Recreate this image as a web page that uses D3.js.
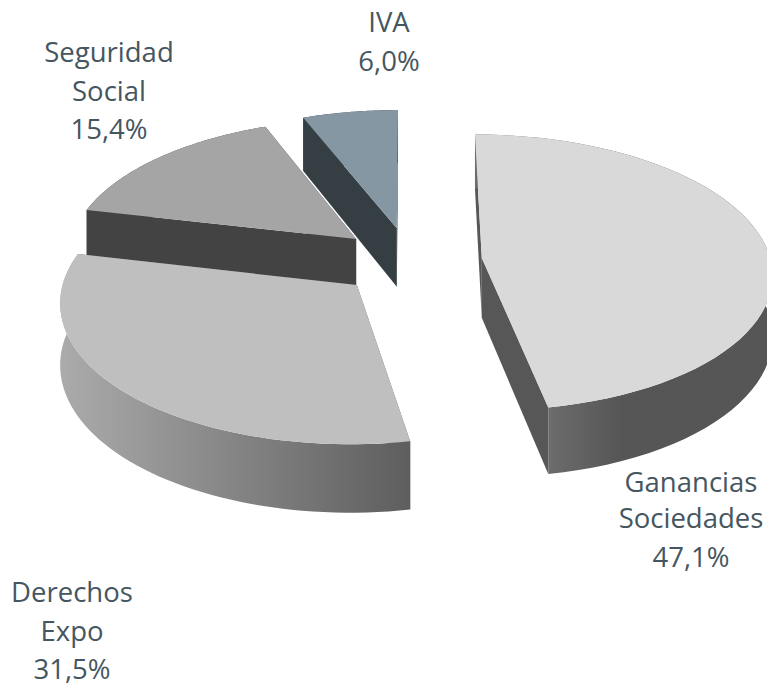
<!DOCTYPE html>
<html lang="es">

<head>
    <meta charset="UTF-8">
    <title>Recaudación</title>
    <style>
        html, body { margin: 0; background: #fff; }
        svg { display: block; }
        text { font-family: "Open Sans", Lato, sans-serif; font-size: 27.5px; fill: #465660; text-anchor: middle; }
    </style>
</head>

<body>
    <svg width="767" height="684"></svg>
    <script src="https://cdn.jsdelivr.net/npm/d3@7.8.5/dist/d3.min.js"></script>
    <script>
        const categories = [['Ganancias', 'Sociedades'], ['Derechos', 'Expo'], ['Seguridad', 'Social'], ['IVA']]
        const values = [47.1, 31.5, 15.4, 6.0]

        // styles, same order as the categories
        const topColors = ['#d9d9d9', '#bfbfbf', '#a5a5a5', '#8497a3']
        const cutColors = ['#575757', '#5f5f5f', '#434343', '#353f43']
        const wallStops = [
            [[0, '#6c6c6c'], [0.32, '#565656'], [1, '#565656']],
            [[0, '#ababab'], [1, '#5e5e5e']],
            [[0, '#434343'], [1, '#434343']],
            [[0, '#353f43'], [1, '#353f43']]
        ]
        const labelCenters = [[691, 492], [72, 602], [109, 62], [389, 32]]
        const labelLeading = [[0, 36, 75], [0, 39, 77], [0, 39, 77], [0, 39]]

        const cx = 410, cy = 261
        const explode = 0.25
        const perspective = 0.105
        const depth = 60

        const svg = d3.select('svg')
        const defs = svg.append('defs')

        const xScale = d3.scaleLinear().domain([0, 1]).range([0, 289])
        const yScale = d3.scaleLinear().domain([0, 1]).range([0, -137])

        // plane coordinates (u right, v back) to screen
        function project(u, v, down) {
            const f = 1 / (1 + perspective * v)
            return [cx + xScale(u) * f, cy + yScale(v) * f + (down ? depth * f : 0)]
        }

        const slices = d3.pie().sort(null).value(d => d)(values)
        const line = d3.line()

        // slices are painted back to front
        const order = [3, 2, 0, 1]

        order.forEach(i => {
            const s = slices[i]
            const mid = (s.startAngle + s.endAngle) / 2
            const ou = explode * Math.sin(mid)
            const ov = explode * Math.cos(mid)
            const apex = [ou, ov]
            const angles = d3.range(0, 61).map(k => s.startAngle + (s.endAngle - s.startAngle) * k / 60)
            const rim = angles.map(a => [ou + Math.sin(a), ov + Math.cos(a)])

            const g = svg.append('g').attr('class', 'slice')
            const onTop = p => project(p[0], p[1], false)
            const onBottom = p => project(p[0], p[1], true)

            // cut faces, the one further back first
            const cuts = [rim[0], rim[rim.length - 1]].sort((a, b) => b[1] - a[1])
            cuts.forEach(p => {
                g.append('path')
                    .attr('d', line([onTop(apex), onTop(p), onBottom(p), onBottom(apex)]) + 'Z')
                    .attr('fill', cutColors[i])
            })

            // outer wall
            const topRim = rim.map(onTop)
            const bottomRim = rim.map(onBottom)
            const xs = d3.extent(topRim.concat(bottomRim).filter(p => p[1] > cy - 10), p => p[0])
            const grad = defs.append('linearGradient')
                .attr('id', 'wall' + i)
                .attr('gradientUnits', 'userSpaceOnUse')
                .attr('x1', i === 0 ? project(rim[60][0], rim[60][1], true)[0] : xs[0])
                .attr('x2', xs[1])
                .attr('y1', 0).attr('y2', 0)
            grad.selectAll('stop').data(wallStops[i]).join('stop')
                .attr('offset', d => d[0])
                .attr('stop-color', d => d[1])
            g.append('path')
                .attr('d', line(topRim.concat(bottomRim.slice().reverse())) + 'Z')
                .attr('fill', `url(#wall${i})`)

            // top face
            g.append('path')
                .attr('d', line([onTop(apex)].concat(topRim)) + 'Z')
                .attr('fill', topColors[i])
        })

        const pct = d3.format('.1f')
        categories.forEach((c, i) => {
            const lines = c.concat(pct(values[i]).replace('.', ',') + '%')
            const t = svg.append('text')
            lines.forEach((l, k) => {
                t.append('tspan')
                    .attr('x', labelCenters[i][0])
                    .attr('y', labelCenters[i][1] + labelLeading[i][k])
                    .text(l)
            })
        })
    </script>
</body>

</html>
